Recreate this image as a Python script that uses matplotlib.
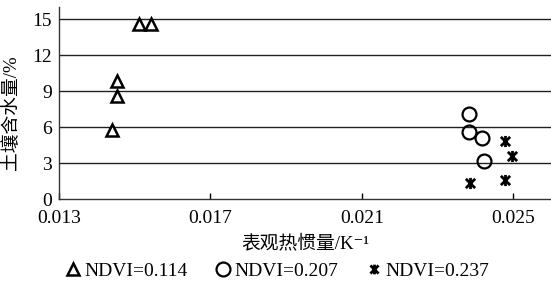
import matplotlib
matplotlib.use("Agg")
import matplotlib.pyplot as plt
from matplotlib.path import Path
from matplotlib.lines import Line2D

plt.rcParams['font.family'] = ['Liberation Serif', 'Noto Sans CJK SC', 'DejaVu Serif']

# data
tri_x = [0.01439, 0.01453, 0.01453, 0.01511, 0.01544]
tri_y = [5.75, 8.6, 9.8, 14.55, 14.55]
circ_x = [0.02384, 0.02383, 0.02417, 0.02424]
circ_y = [7.05, 5.55, 5.1, 3.2]
ast_x = [0.02478, 0.02498, 0.02386, 0.02478]
ast_y = [4.8, 3.6, 1.35, 1.55]
labels = ['NDVI=0.114', 'NDVI=0.207', 'NDVI=0.237']
xticks = [0.013, 0.017, 0.021, 0.025]
xticklabels = ['0.013', '0.017', '0.021', '0.025']
yticks = [0, 3, 6, 9, 12, 15]

# X with a vertical bar
ast_marker = Path([(-1, -1), (1, 1), (-1, 1), (1, -1), (0, -1.2), (0, 1.2)],
                  [Path.MOVETO, Path.LINETO, Path.MOVETO, Path.LINETO, Path.MOVETO, Path.LINETO])

fig = plt.figure(figsize=(5.51, 2.86), dpi=100)
ax = fig.add_axes([0.107, 0.304, 0.893, 0.6715])

for y in yticks[1:]:
    ax.axhline(y, color='#222222', lw=1.0, zorder=1)

ax.plot(tri_x, tri_y, ls='none', marker='^', ms=9, mfc='white', mec='black', mew=1.8, zorder=3)
ax.plot(circ_x, circ_y, ls='none', marker='o', ms=10, mfc='none', mec='black', mew=1.6, zorder=3)
ax.plot(ast_x, ast_y, ls='none', marker=ast_marker, ms=8, mfc='none', mec='black', mew=2.0, zorder=3)

ax.set_xlim(0.013, 0.026)
ax.set_ylim(0, 16)
ax.set_xticks(xticks)
ax.set_xticklabels(xticklabels, fontsize=14)
ax.set_yticks(yticks)
ax.set_yticklabels([str(v) for v in yticks], fontsize=14)
ax.tick_params(axis='x', direction='in', length=4, width=1, pad=8)
ax.tick_params(axis='y', length=0, pad=5)
for s in ['top', 'right']:
    ax.spines[s].set_visible(False)
for s in ['left', 'bottom']:
    ax.spines[s].set_color('#333333')
    ax.spines[s].set_linewidth(1.0)

ax.set_xlabel('表观热惯量/K⁻¹', fontsize=13.5, labelpad=5)
ax.set_ylabel('土壤含水量/%', fontsize=13.5)
ax.yaxis.set_label_coords(-0.079, 0.45)

handles = [
    Line2D([], [], ls='none', marker='^', ms=8, mfc='white', mec='black', mew=1.8),
    Line2D([], [], ls='none', marker='o', ms=10, mfc='none', mec='black', mew=1.6),
    Line2D([], [], ls='none', marker=ast_marker, ms=7, mfc='none', mec='black', mew=2.0),
]
fig.legend(handles, labels, loc='center', bbox_to_anchor=(0.505, 0.052), ncol=3,
           frameon=False, fontsize=14, handlelength=0.6, handletextpad=0.3,
           columnspacing=1.5)

fig.savefig('out.png', dpi=100)
